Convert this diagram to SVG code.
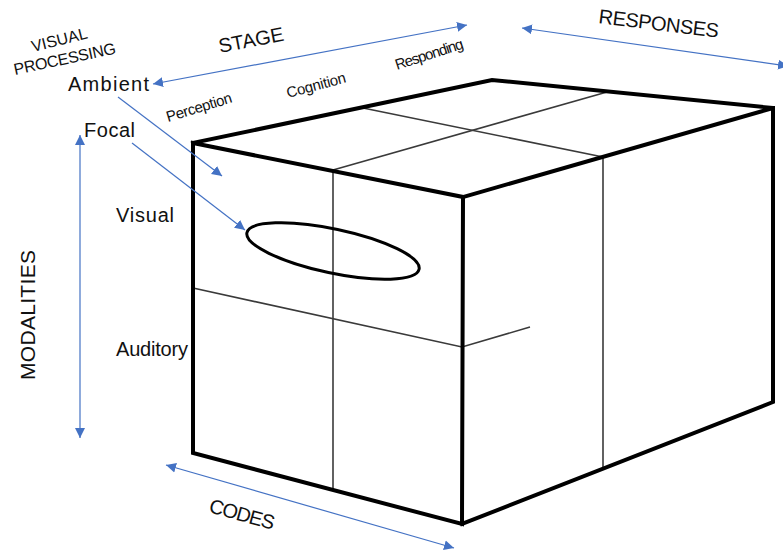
<svg xmlns="http://www.w3.org/2000/svg" width="783" height="551" viewBox="0 0 783 551">
<defs>
<marker id="ah" viewBox="0 0 10 10" refX="10" refY="5" markerWidth="10" markerHeight="11" markerUnits="userSpaceOnUse" orient="auto-start-reverse">
<path d="M0,0 L10,5 L0,10 z" fill="#4472C4"/>
</marker>
<style>
.thick{fill:none;stroke:#000;stroke-width:4;stroke-linejoin:miter;stroke-linecap:square}
.thin{fill:none;stroke:#3a3a3a;stroke-width:1.6}
.arr{fill:none;stroke:#4472C4;stroke-width:1.2}
text{font-family:"Liberation Sans",Arial,sans-serif;fill:#111}
.big{font-size:20px}
.mid{font-size:16px}
.sm{font-size:15px}
</style>
</defs>
<rect width="783" height="551" fill="#fff"/>
<g id="box">
<g id="grid" class="thin">
<line x1="333" y1="170" x2="333" y2="489"/>
<polyline points="193,288 462,347 530,327"/>
<line x1="603" y1="157" x2="603" y2="469"/>
<line x1="363" y1="108" x2="603" y2="157"/>
<line x1="333" y1="170" x2="607" y2="92"/>
</g>
<g id="outline" class="thick">
<polygon points="193,143 463,197 462,524 193,453"/>
<polyline points="193,143 492,80 773,108 463,197"/>
<polyline points="773,108 773,402 462,524"/>
</g>
<ellipse id="focal-area" cx="333" cy="251" rx="88" ry="22" transform="rotate(12 333 251)" fill="none" stroke="#000" stroke-width="3"/>
</g>
<g id="connectors" class="arr">
<line x1="467" y1="25" x2="153" y2="84" marker-start="url(#ah)" marker-end="url(#ah)"/>
<line x1="522" y1="28" x2="788" y2="66" marker-start="url(#ah)" marker-end="url(#ah)"/>
<line x1="118" y1="97" x2="222" y2="176" marker-end="url(#ah)"/>
<line x1="132" y1="143" x2="245" y2="230" marker-end="url(#ah)"/>
<line x1="80" y1="135" x2="80" y2="438" marker-start="url(#ah)" marker-end="url(#ah)"/>
<line x1="166" y1="465" x2="454" y2="548" marker-start="url(#ah)" marker-end="url(#ah)"/>
</g>
<g id="labels">
<g id="visual-processing"><text class="mid" transform="translate(33 52) rotate(-14)" textLength="57">VISUAL</text>
<text class="mid" transform="translate(15 75) rotate(-12)" textLength="104">PROCESSING</text></g>
<text id="stage" class="big" transform="translate(220 53) rotate(-11)" textLength="66">STAGE</text>
<text id="responses" class="big" transform="translate(598 23) rotate(7)" textLength="121">RESPONSES</text>
<text id="ambient" class="big" x="68" y="91" textLength="81">Ambient</text>
<text id="focal" class="big" x="84" y="137" textLength="51">Focal</text>
<text id="perception" class="sm" transform="translate(168 122) rotate(-17)" textLength="68">Perception</text>
<text id="cognition" class="sm" transform="translate(288 98) rotate(-15)" textLength="61">Cognition</text>
<text id="responding" class="sm" transform="translate(397 70) rotate(-18)" textLength="71">Responding</text>
<text id="visual" class="big" x="116" y="222" textLength="58">Visual</text>
<text id="auditory" class="big" x="116" y="356" textLength="72">Auditory</text>
<text id="modalities" class="big" style="font-size:21px" transform="translate(35 380) rotate(-90)" textLength="130">MODALITIES</text>
<text id="codes" class="big" transform="translate(208 512) rotate(15.5)" textLength="67">CODES</text>
</g>
</svg>
